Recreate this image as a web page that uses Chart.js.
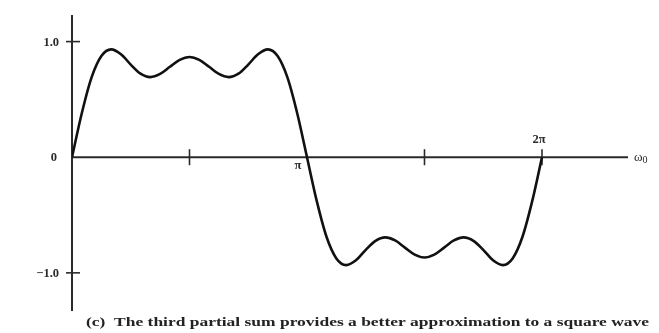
<!DOCTYPE html>
<html>
<head>
<meta charset="utf-8">
<script src="https://cdn.jsdelivr.net/npm/chart.js@4/dist/chart.umd.min.js"></script>
<style>
html,body{margin:0;padding:0;background:#fff;}
#wrap{width:659px;height:333px;position:relative;}
</style>
</head>
<body>
<div id="wrap"><canvas id="c" width="659" height="333"></canvas></div>
<script>
// x positions in units of pi (omega0 t / pi)
const xValues = [0,1/24,2/24,3/24,4/24,5/24,6/24,7/24,8/24,9/24,10/24,11/24,12/24,13/24,14/24,15/24,16/24,17/24,18/24,19/24,20/24,21/24,22/24,23/24,1,
  25/24,26/24,27/24,28/24,29/24,30/24,31/24,32/24,33/24,34/24,35/24,36/24,37/24,38/24,39/24,40/24,41/24,42/24,43/24,44/24,45/24,46/24,47/24,2];
// third partial sum values
const yValues = [0,0.38,0.69,0.875,0.933,0.891,0.801,0.723,0.693,0.720,0.782,0.842,0.867,0.842,0.782,0.720,0.693,0.723,0.801,0.891,0.933,0.875,0.69,0.38,0,
  -0.38,-0.69,-0.875,-0.933,-0.891,-0.801,-0.723,-0.693,-0.720,-0.782,-0.842,-0.867,-0.842,-0.782,-0.720,-0.693,-0.723,-0.801,-0.891,-0.933,-0.875,-0.69,-0.38,0];
const yTickValues = [1.0, 0, -1.0];
const yTickLabels = ["1.0", "0", "\u22121.0"];
const xTickValues = [0.5, 1, 1.5, 2];
const xTickLabels = ["", "\u03c0", "", "2\u03c0"];
const xAxisLabel = "\u03c9";
const xAxisLabelSub = "0";
const caption = "(c)  The third partial sum provides a better approximation to a square wave";

const serif = '"Liberation Serif","DejaVu Serif",serif';

const axesPlugin = {
  id: 'axesPlugin',
  beforeDatasetsDraw(chart) {
    const ctx = chart.ctx;
    const xs = chart.scales.x, ys = chart.scales.y;
    const x0 = xs.getPixelForValue(0), y0 = ys.getPixelForValue(0);
    ctx.save();
    ctx.strokeStyle = '#2a2a2a';
    ctx.lineWidth = 2;
    ctx.beginPath();
    ctx.moveTo(x0, chart.chartArea.top);
    ctx.lineTo(x0, chart.chartArea.bottom);
    ctx.stroke();
    ctx.beginPath();
    ctx.moveTo(x0, y0);
    ctx.lineTo(chart.chartArea.right, y0);
    ctx.stroke();
    ctx.lineWidth = 1.6;
    yTickValues.forEach(v => {
      if (v === 0) return;
      const py = ys.getPixelForValue(v);
      ctx.beginPath(); ctx.moveTo(x0 - 6, py); ctx.lineTo(x0 + 8, py); ctx.stroke();
    });
    xTickValues.forEach(v => {
      if (v === 1) return;
      const px = xs.getPixelForValue(v);
      ctx.beginPath(); ctx.moveTo(px, y0 - 8); ctx.lineTo(px, y0 + 8); ctx.stroke();
    });
    ctx.restore();
  },
  afterDraw(chart) {
    const ctx = chart.ctx;
    const xs = chart.scales.x, ys = chart.scales.y;
    const x0 = xs.getPixelForValue(0), y0 = ys.getPixelForValue(0);
    ctx.save();
    ctx.fillStyle = '#2a2a2a';
    ctx.font = 'bold 12.5px ' + serif;
    ctx.textBaseline = 'middle';
    ctx.textAlign = 'right';
    yTickValues.forEach((v, i) => {
      const py = ys.getPixelForValue(v);
      const off = v === 0 ? 15 : 13;
      ctx.fillText(yTickLabels[i], x0 - off, py + 1);
    });
    ctx.textAlign = 'center';
    xTickValues.forEach((v, i) => {
      if (!xTickLabels[i]) return;
      const px = xs.getPixelForValue(v);
      if (v === 1) ctx.fillText(xTickLabels[i], px - 9, y0 + 9);
      else ctx.fillText(xTickLabels[i], px - 3, y0 - 17);
    });
    ctx.textAlign = 'left';
    ctx.font = '13px ' + serif;
    const lx = chart.chartArea.right + 6;
    ctx.fillText(xAxisLabel, lx, y0);
    const w = ctx.measureText(xAxisLabel).width;
    ctx.font = '10px ' + serif;
    ctx.fillText(xAxisLabelSub, lx + w, y0 + 3);
    // caption, stretched horizontally like the scan
    ctx.font = '600 12px ' + serif;
    ctx.fillStyle = '#222';
    const cw = ctx.measureText(caption).width;
    const target = 563;
    ctx.translate(86, 323);
    ctx.scale(target / cw, 1);
    ctx.fillText(caption, 0, 0);
    ctx.restore();
  }
};

new Chart(document.getElementById('c'), {
  type: 'line',
  data: {
    datasets: [{
      data: xValues.map((x, i) => ({x: x, y: yValues[i]})),
      borderColor: '#111',
      borderWidth: 2.6,
      pointRadius: 0,
      cubicInterpolationMode: 'monotone',
      fill: false
    }]
  },
  options: {
    responsive: false,
    animation: false,
    events: [],
    layout: { padding: { left: 72, right: 31, top: 15, bottom: 22 } },
    plugins: { legend: { display: false }, tooltip: { enabled: false } },
    scales: {
      x: { type: 'linear', min: 0, max: 2.366, display: false },
      y: { type: 'linear', min: -1.33, max: 1.23, display: false }
    }
  },
  plugins: [axesPlugin]
});
</script>
</body>
</html>
